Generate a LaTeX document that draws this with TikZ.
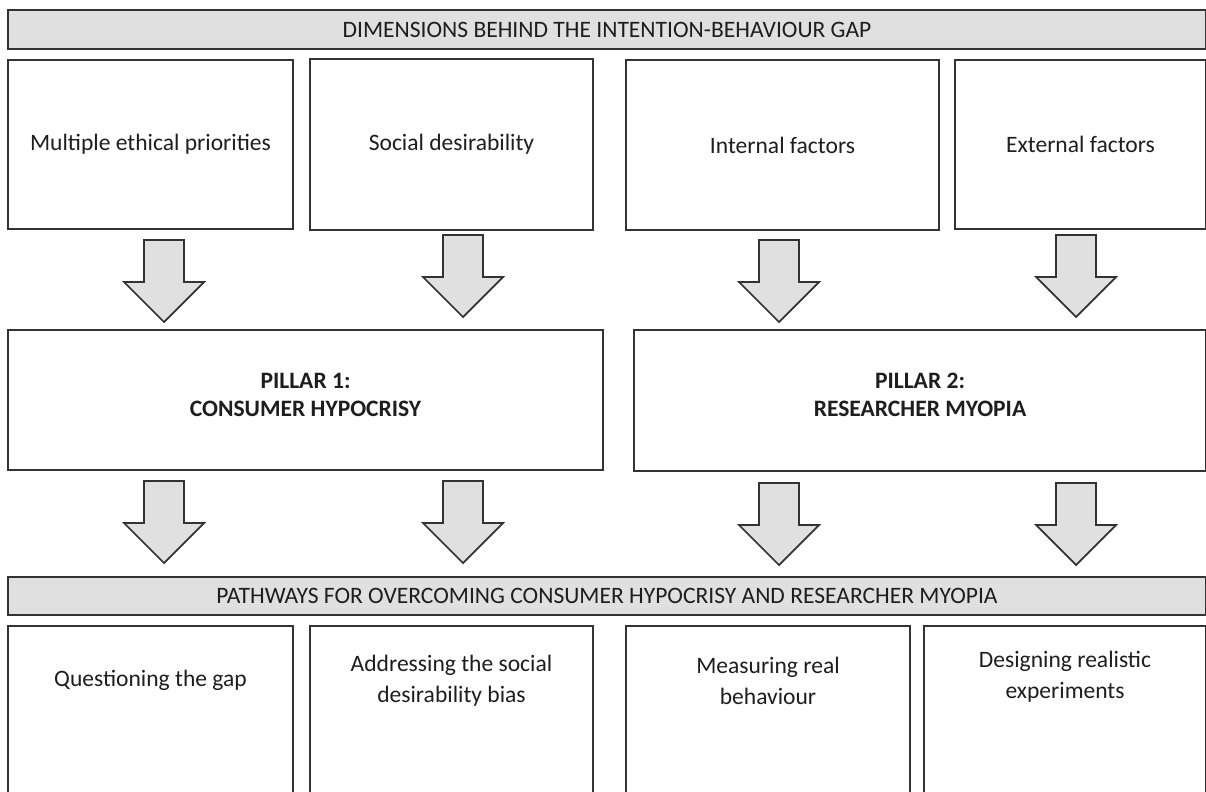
\documentclass[tikz,border=0pt]{standalone}
\usepackage{fontspec}
\setmainfont{Carlito}
\usetikzlibrary{positioning, calc}
\definecolor{boxline}{HTML}{333333}
\definecolor{boxfill}{HTML}{E0E0E0}
\definecolor{inktext}{HTML}{1E1E1E}
\tikzset{
    x=0.02cm, y=-0.02cm,
    every node/.style={text=inktext, font=\fontsize{13.4}{17.6}\selectfont},
    frame/.style 2 args={draw=boxline, line width=1.1pt, minimum width=#1*0.02cm, minimum height=#2*0.02cm, inner sep=0pt, align=center},
    banner/.style={fill=boxfill},
    pillar/.style={font=\fontsize{13.4}{15.9}\selectfont\bfseries, align=center},
    blk/.style={draw=boxline, fill=boxfill, line width=1pt, line join=miter}
}
\newcommand{\bigarrow}[2]{%
    \draw[blk] ($(#1)+(-20,0)$) -- ($(#1)+(20,0)$) -- ($(#2)+(20,-40)$) -- ($(#2)+(40,-40)$)
        -- (#2) -- ($(#2)+(-40,-40)$) -- ($(#2)+(-20,-40)$) -- cycle;}

\begin{document}
\begin{tikzpicture}
                            \clip (0,0) rectangle (1206,791);
                            \fill[white] (0,0) rectangle (1206,791);

                            \node[frame={1198}{39}, banner] (dims) at (607,29.5) {DIMENSIONS BEHIND THE INTENTION-BEHAVIOUR GAP};
                            \node[frame={285}{169}] (ethic) at (150.5,144.5) {Multiple ethical priorities};
                            \node[frame={283}{171}] (social) at (451.5,144.5) {Social desirability};
                            \node[frame={313}{170}] (internal) at (782.5,145) {Internal factors};
                            \node[frame={251}{169}] (external) at (1080.5,144.5) {External factors};

                            \node[frame={595}{140}] (pillar1) at (305.5,400) {};
                            \node[frame={572}{141}] (pillar2) at (920,400.5) {};
                            \node[pillar] (hypocrisy) at ($(pillar1.north)+(0,66)$) {PILLAR 1:\\CONSUMER HYPOCRISY};
                            \node[pillar] (myopia) at ($(pillar2.north)+(0,66)$) {PILLAR 2:\\RESEARCHER MYOPIA};

                            \node[frame={1198}{38}, banner] (paths) at (607,596) {PATHWAYS FOR OVERCOMING CONSUMER HYPOCRISY AND RESEARCHER MYOPIA};
                            \node[frame={285}{200}] (gapbox) at (150.5,726) {};
                            \node[frame={283}{200}] (biasbox) at (451.5,726) {};
                            \node[frame={284}{200}] (realbox) at (768,726) {};
                            \node[frame={282}{200}] (expbox) at (1065,726) {};
                            \node (gap) at ($(gapbox.north)+(0,55)$) {Questioning the gap};
                            \node[align=center] (bias) at ($(biasbox.north)+(0,56)$) {Addressing the social\\desirability bias};
                            \node[align=center] (real) at ($(realbox.north)+(0,56)$) {Measuring real\\behaviour};
                            \node[align=center] (exp) at ($(expbox.north)+(0,52)$) {Designing realistic\\experiments};

                            \coordinate (e1) at (164,240);  \coordinate (e2) at (164,322);
                            \coordinate (s1) at (463,235);  \coordinate (s2) at (463,317);
                            \coordinate (i1) at (779,240);  \coordinate (i2) at (779,322);
                            \coordinate (x1) at (1076,235); \coordinate (x2) at (1076,317);
                            \coordinate (h1) at (164,481);  \coordinate (h2) at (164,563);
                            \coordinate (b1) at (463,481);  \coordinate (b2) at (463,563);
                            \coordinate (r1) at (779,483);  \coordinate (r2) at (779,565);
                            \coordinate (m1) at (1076,483); \coordinate (m2) at (1076,565);

                            \foreach \a in {e, s, i, x, h, b, r, m}
                                \bigarrow{\a1}{\a2};
                        \end{tikzpicture}
\end{document}
